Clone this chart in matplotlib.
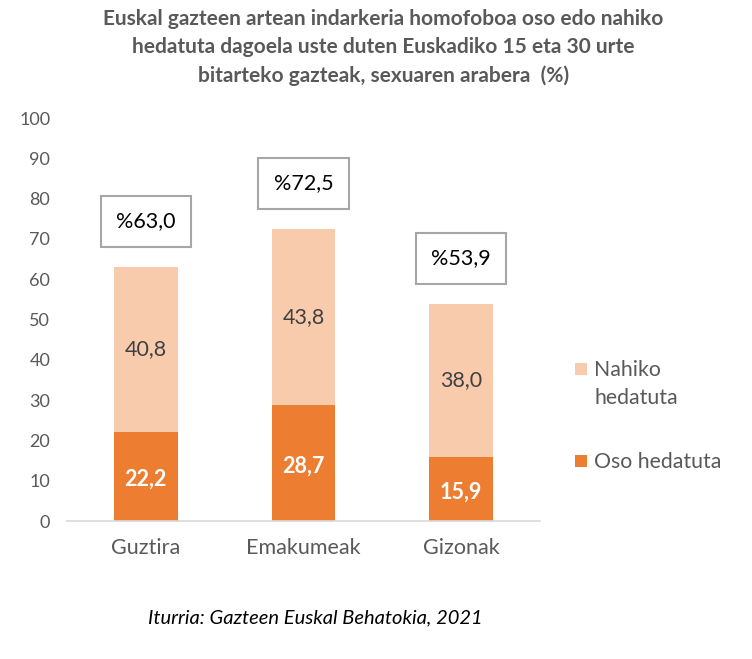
import matplotlib.pyplot as plt
from matplotlib.patches import Rectangle

# Datuak
kategoriak = ['Guztira', 'Emakumeak', 'Gizonak']
oso_hedatuta = [22.2, 28.7, 15.9]
nahiko_hedatuta = [40.8, 43.8, 38.0]
guztira = [63.0, 72.5, 53.9]
legenda_testuak = ['Nahiko\nhedatuta', 'Oso hedatuta']

kolore_iluna = '#ED7D31'
kolore_argia = '#F8CBAD'
testu_grisa = '#595959'

plt.rcParams['font.family'] = ['Lato', 'DejaVu Sans']

fig = plt.figure(figsize=(7.52, 6.59), dpi=100)
ax = fig.add_axes([0.089, 0.2094, 0.629, 0.6115])

x = range(len(kategoriak))
ax.bar(x, oso_hedatuta, width=0.405, color=kolore_iluna)
ax.bar(x, nahiko_hedatuta, width=0.405, bottom=oso_hedatuta, color=kolore_argia)

for i in x:
    ax.text(i, oso_hedatuta[i] / 2 - 0.8, f'{oso_hedatuta[i]:.1f}'.replace('.', ','),
            ha='center', va='center', color='white', fontsize=15.5, fontweight='bold')
    ax.text(i, oso_hedatuta[i] + nahiko_hedatuta[i] / 2, f'{nahiko_hedatuta[i]:.1f}'.replace('.', ','),
            ha='center', va='center', color='#404040', fontsize=15.5)
    ax.text(i, guztira[i] + 11.3, '%' + f'{guztira[i]:.1f}'.replace('.', ','),
            ha='center', va='center', color='black', fontsize=15.5,
            bbox=dict(boxstyle='square,pad=0.72', facecolor='white', edgecolor='#A6A6A6', linewidth=1.5))

ax.set_xlim(-0.5, 2.5)
ax.set_ylim(0, 100)
ax.set_yticks(range(0, 101, 10))
ax.set_xticks(list(x))
ax.set_xticklabels(kategoriak, fontsize=15.5, color=testu_grisa)
ax.tick_params(axis='y', labelsize=13, colors=testu_grisa, length=0, pad=12)
ax.tick_params(axis='x', length=0, pad=12)
for lado in ['top', 'right', 'left']:
    ax.spines[lado].set_visible(False)
ax.spines['bottom'].set_color('#D9D9D9')
ax.spines['bottom'].set_linewidth(1.2)

# Legenda eskuz (karratua lehen lerroarekin lerrokatuta)
legenda_koloreak = [kolore_argia, kolore_iluna]
legenda_y = [1 - 369 / 659, 1 - 461 / 659]
for kolorea, testua, y in zip(legenda_koloreak, legenda_testuak, legenda_y):
    fig.patches.append(Rectangle((575 / 752, y - 6 / 659), 12 / 752, 12 / 659,
                                 facecolor=kolorea, transform=fig.transFigure))
    fig.text(594 / 752, y + 9 / 659, testua, ha='left', va='top', fontsize=15.3,
             color=testu_grisa, linespacing=1.5)

fig.text(0.51, 0.928,
         'Euskal gazteen artean indarkeria homofoboa oso edo nahiko\n'
         'hedatuta dagoela uste duten Euskadiko 15 eta 30 urte\n'
         'bitarteko gazteak, sexuaren arabera  (%)',
         ha='center', va='center', fontsize=15, fontweight='bold',
         color=testu_grisa, linespacing=1.5)

fig.text(0.419, 0.063, 'Iturria: Gazteen Euskal Behatokia, 2021',
         ha='center', va='center', fontsize=14.5, style='italic', color='black')

fig.savefig('out.png', dpi=100)
